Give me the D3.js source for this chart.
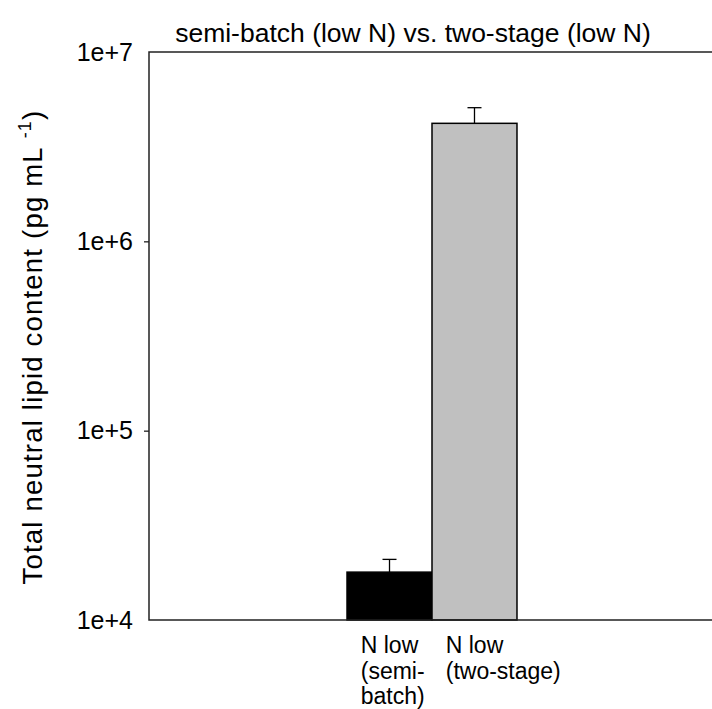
<!DOCTYPE html>
<html>
<head>
<meta charset="utf-8">
<script src="https://cdn.jsdelivr.net/npm/d3@7"></script>
<style>
  body { margin: 0; background: #fff; }
  text { font-family: "Liberation Sans", Arial, sans-serif; fill: #000; }
</style>
</head>
<body>
<div class="chart"></div>
<script>
// data
const categories = ["N low (semi-batch)", "N low (two-stage)"];
const labelLines = [["N low", "(semi-", "batch)"], ["N low", "(two-stage)"]];
const values = [1.79e4, 4.2e6];
const errors = [0.30e4, 0.88e6];
const yTicks = [1e4, 1e5, 1e6, 1e7];
const barColors = ["#000000", "#c0c0c0"];

const W = 712, H = 709;
const margin = {top: 52, right: -3, bottom: 89, left: 149};
const width = W - margin.left - margin.right,
      height = H - margin.top - margin.bottom;

const svg = d3.select(".chart").append("svg")
    .attr("width", W)
    .attr("height", H);

const g = svg.append("g")
    .attr("transform", "translate(" + margin.left + "," + margin.top + ")");

const x = d3.scaleBand()
    .domain(categories)
    .range([0, width])
    .paddingInner(0)
    .paddingOuter(2.33);

const y = d3.scaleLog()
    .domain([1e4, 1e7])
    .range([height, 0]);

// bars
g.selectAll("rect.bar")
    .data(categories)
    .enter()
    .append("rect")
    .attr("class", "bar")
    .attr("x", d => x(d))
    .attr("y", (d, i) => y(values[i]))
    .attr("width", x.bandwidth())
    .attr("height", (d, i) => height - y(values[i]))
    .attr("fill", (d, i) => barColors[i])
    .attr("stroke", "#000")
    .attr("stroke-width", 1.5);

// error bars (upper only)
const capW = 14;
const eb = g.selectAll("g.err")
    .data(categories)
    .enter()
    .append("g")
    .attr("class", "err");
eb.append("line")
    .attr("x1", d => x(d) + x.bandwidth() / 2)
    .attr("x2", d => x(d) + x.bandwidth() / 2)
    .attr("y1", (d, i) => y(values[i]))
    .attr("y2", (d, i) => y(values[i] + errors[i]))
    .attr("stroke", "#000")
    .attr("stroke-width", 1.3);
eb.append("line")
    .attr("x1", d => x(d) + x.bandwidth() / 2 - capW / 2)
    .attr("x2", d => x(d) + x.bandwidth() / 2 + capW / 2)
    .attr("y1", (d, i) => y(values[i] + errors[i]))
    .attr("y2", (d, i) => y(values[i] + errors[i]))
    .attr("stroke", "#000")
    .attr("stroke-width", 1.3);

// y axis
const yAxis = d3.axisLeft(y)
    .tickValues(yTicks)
    .tickSize(5)
    .tickPadding(11)
    .tickFormat(d => "1e+" + Math.round(Math.log10(d)));
const ya = g.append("g")
    .attr("class", "axis y-axis")
    .call(yAxis);
ya.select(".domain").remove();
ya.selectAll(".tick line")
    .attr("stroke", "#222")
    .attr("stroke-width", 1.3)
    .attr("display", (d, i) => (i === 0 || i === yTicks.length - 1) ? "none" : null);
ya.selectAll(".tick text")
    .style("font-size", "25px")
    .attr("fill", "#000");

// frame: left, top, bottom
g.append("path")
    .attr("d", "M" + (width + 5) + ",0H0V" + height + "H" + (width + 5))
    .attr("fill", "none")
    .attr("stroke", "#222")
    .attr("stroke-width", 1.5);

// category labels: first line centred on the bar, other lines aligned with it
categories.forEach(function(c, i) {
    const t = g.append("text")
        .attr("y", height + 33)
        .style("font-size", "23px");
    t.selectAll("tspan")
        .data(labelLines[i])
        .enter()
        .append("tspan")
        .attr("dy", (d, j) => j === 0 ? 0 : 25.5)
        .text(d => d);
    const first = t.select("tspan").node().getComputedTextLength();
    const x0 = x(c) + x.bandwidth() / 2 - first / 2;
    t.selectAll("tspan").attr("x", x0);
});

// title
svg.append("text")
    .attr("x", 413)
    .attr("y", 42)
    .attr("text-anchor", "middle")
    .style("font-size", "26.5px")
    .text("semi-batch (low N) vs. two-stage (low N)");

// y axis label
const yl = svg.append("text")
    .attr("transform", "translate(42,347) rotate(-90)")
    .attr("text-anchor", "middle")
    .style("font-size", "27.5px")
    .style("letter-spacing", "1.2px");
yl.append("tspan").text("Total neutral lipid content (pg mL ");
yl.append("tspan").attr("dy", -11).style("font-size", "18px").text("-1");
yl.append("tspan").attr("dy", 11).text(")");
</script>
</body>
</html>
